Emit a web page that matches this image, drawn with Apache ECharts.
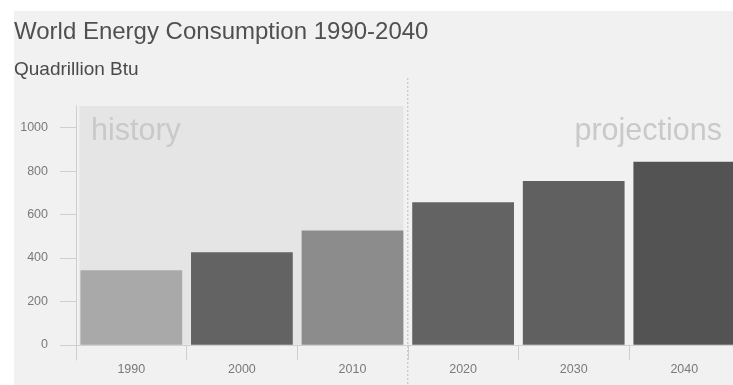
<!DOCTYPE html>
<html><head><meta charset="utf-8">
<script src="https://cdn.jsdelivr.net/npm/echarts@6/dist/echarts.min.js"></script>
<style>html,body{margin:0;padding:0;background:#fff}#c{width:733px;height:385px}</style>
</head><body><div id="c"></div>
<script>
const categories = ['1990', '2000', '2010', '2020', '2030', '2040'];
const consumption = [343, 426, 527, 657, 754, 843];
const barColors = ['#a9a9a9', '#636363', '#8c8c8c', '#636363', '#606060', '#535353'];
const yTicks = [0, 200, 400, 600, 800, 1000];
const titleText = 'World Energy Consumption 1990-2040';
const unitText = 'Quadrillion Btu';
const historyLabel = 'history';
const projectionLabel = 'projections';

const FONT = '"Liberation Sans", Arial, Helvetica, sans-serif';
const chart = echarts.init(document.getElementById('c'), null, {renderer: 'canvas'});

const option = {
  backgroundColor: '#ffffff',
  animation: false,
  title: [
    {text: titleText, left: 14, top: 20, padding: 0,
     textStyle: {fontFamily: FONT, fontSize: 24, fontWeight: 'normal', color: '#505050'}},
    {text: unitText, left: 14, top: 60, padding: 0,
     textStyle: {fontFamily: FONT, fontSize: 19, fontWeight: 'normal', color: '#4a4a4a'}}
  ],
  grid: {left: 76, top: 106, bottom: 25, width: 663.6, containLabel: false, outerBoundsMode: 'none'},
  xAxis: [
    {type: 'category', data: categories,
     axisLine: {show: true, onZero: true, lineStyle: {color: '#cfcfcf', width: 1}},
     axisTick: {show: true, interval: 0, length: 15, lineStyle: {color: '#cfcfcf'}},
     axisLabel: {margin: 3, fontFamily: FONT, fontSize: 12.5, color: '#7a7a7a'},
     splitLine: {show: false}},
    {type: 'value', min: 0, max: 6, show: false}
  ],
  yAxis: {
    type: 'value', min: -70, max: 1100, offset: 5,
    axisLine: {show: true, lineStyle: {color: '#cfcfcf', width: 1}},
    axisTick: {show: true, length: 16, customValues: yTicks, lineStyle: {color: '#cfcfcf'}},
    axisLabel: {margin: 23, customValues: yTicks, formatter: v => String(v),
                fontFamily: FONT, fontSize: 12.5, color: '#7a7a7a'},
    splitLine: {show: false}
  },
  series: [
    {type: 'line', xAxisIndex: 1, yAxisIndex: 0, data: [], silent: true,
     markArea: {silent: true, itemStyle: {color: '#e5e5e5'},
       data: [[{xAxis: 0.03, yAxis: 0}, {xAxis: 2.96, yAxis: 1100}]]}},
    {type: 'bar', xAxisIndex: 0, barCategoryGap: '8%', z: 3,
     data: consumption.map((v, i) => ({value: v, itemStyle: {color: barColors[i]}}))}
  ]
};
chart.setOption(option);

const divX = chart.convertToPixel({xAxisIndex: 1}, 3);
chart.setOption({
  graphic: [
    {type: 'rect', z: -100, silent: true, shape: {x: 14, y: 11, width: 719, height: 374}, style: {fill: '#f1f1f1'}},
    {type: 'line', z: 10, silent: true, shape: {x1: divX, y1: 78, x2: divX, y2: 385},
     style: {stroke: '#bdbdbd', lineWidth: 1, lineDash: [2, 2]}},
    {type: 'text', z: 10, silent: true, x: 91, y: 116,
     style: {text: historyLabel, fontFamily: FONT, fontSize: 30.5, fill: '#c9c9c9', verticalAlign: 'top', align: 'left'}},
    {type: 'text', z: 10, silent: true, x: 722, y: 116,
     style: {text: projectionLabel, fontFamily: FONT, fontSize: 30.5, fill: '#c9c9c9', verticalAlign: 'top', align: 'right'}}
  ]
});
</script></body></html>
